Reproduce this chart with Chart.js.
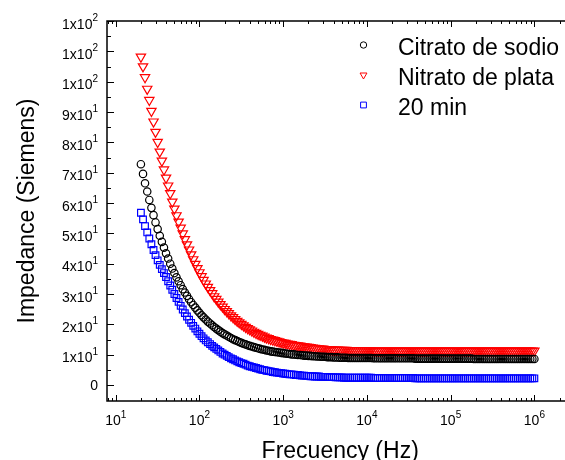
<!DOCTYPE html>
<html>
<head>
<meta charset="utf-8">
<script src="https://cdn.jsdelivr.net/npm/chart.js@4/dist/chart.umd.min.js"></script>
<style>
html,body{margin:0;padding:0;background:#fff;overflow:hidden;width:565px;height:460px;}
canvas{display:block;}
</style>
</head>
<body>
<canvas id="c" width="580" height="460"></canvas>
<script>
// Frequencies (Hz)
const freq = [
20,21.2,22.4,23.8,25.2,26.7,28.3,29.9,31.7,33.6,35.6,37.7,39.9,42.3,44.8,47.4,50.2,53.2,56.4,59.7,63.2,67,71,75.2,79.6,84.3,89.3,94.6,100,106,112,119,126,134,142,150,159,168,178,189,
200,212,224,238,252,267,283,299,317,336,356,377,399,423,448,474,502,532,564,597,632,670,710,752,796,843,893,946,1000,1060,1120,1190,1260,1340,1420,1500,1590,1680,1780,1890,
2000,2120,2240,2380,2520,2670,2830,2990,3170,3360,3560,3770,3990,4230,4480,4740,5020,5320,5640,5970,6320,6700,7100,7520,7960,8430,8930,9460,10000,10600,11200,11900,12600,13400,14200,15000,15900,16800,17800,18900,
20000,21200,22400,23800,25200,26700,28300,29900,31700,33600,35600,37700,39900,42300,44800,47400,50200,53200,56400,59700,63200,67000,71000,75200,79600,84300,89300,94600,100000,106000,112000,119000,126000,134000,142000,150000,159000,168000,178000,189000,
200000,212000,224000,238000,252000,267000,283000,299000,317000,336000,356000,377000,399000,423000,448000,474000,502000,532000,564000,597000,632000,670000,710000,752000,796000,843000,893000,946000,1000000
];
// Citrato de sodio
const citrato = [
72.8,69.6,66.5,63.8,61.0,58.4,56.0,53.6,51.4,49.2,
47.2,45.3,43.4,41.7,40.0,38.4,36.9,35.5,34.2,32.9,
31.6,30.5,29.4,28.3,27.3,26.4,25.5,24.6,23.8,23.0,
22.3,21.6,20.9,20.3,19.7,19.1,18.6,18.1,17.6,17.1,
16.7,16.3,15.9,15.5,15.1,14.8,14.5,14.2,13.9,13.6,
13.4,13.1,12.9,12.7,12.5,12.3,12.1,11.9,11.7,11.6,
11.4,11.3,11.1,11.0,10.9,10.8,10.7,10.6,10.5,10.4,
10.3,10.2,10.1,10.1,10.0,9.9,9.9,9.8,9.7,9.7,
9.6,
9.6,9.5,9.5,9.4,9.4,9.3,9.3,9.3,9.2,9.2,
9.2,9.1,9.1,9.1,9.0,9.0,9.0,9.0,8.9,8.9,
8.9,8.9,8.9,8.9,8.9,8.9,8.9,8.9,8.9,8.9,
8.8,8.8,8.8,8.8,8.8,8.8,8.8,8.8,8.8,8.8,8.8,8.8,8.8,8.8,8.8,8.8,8.8,8.8,8.8,8.8,
8.7,8.7,8.7,8.7,8.7,8.7,8.7,8.7,8.7,8.7,8.7,8.7,8.7,8.7,8.7,8.7,8.7,8.7,8.7,8.7,8.7,8.7,8.7,8.7,8.7,8.7,8.7,8.7,
8.6,8.6,8.6,8.6,8.6,8.6,8.6,8.6,8.6,8.6,8.6,8.6,8.6,8.6,8.6,8.6,8.6,8.6,8.6,8.6,8.6,8.6,8.6,8.6,8.6,8.6,8.6,8.6,8.6,8.6
];
// Nitrato de plata
const nitrato = [
108.2,105.0,101.4,97.6,93.9,90.3,86.8,83.4,80.1,76.9,
73.9,71.0,68.3,65.7,63.2,60.4,58.1,55.9,53.8,51.8,
49.9,48.0,46.3,44.6,43.0,41.4,39.9,38.5,37.1,35.8,
34.6,33.4,32.3,31.2,30.2,29.2,28.3,27.4,26.6,25.8,
25.0,24.3,23.6,22.9,22.3,21.7,21.1,20.6,20.1,19.6,
19.1,18.7,18.3,17.9,17.5,17.1,16.8,16.5,16.2,15.9,
15.6,15.4,15.1,14.9,14.7,14.5,14.3,14.1,13.9,13.8,
13.6,13.5,13.4,13.2,13.1,13.0,12.9,12.8,12.7,12.6,
12.5,
12.4,12.3,12.2,12.1,12.0,11.9,11.9,11.8,11.8,11.7,
11.7,11.6,11.6,11.6,11.5,11.5,11.5,11.5,11.4,11.4,
11.4,11.4,11.4,11.4,11.4,11.4,11.4,11.4,11.4,11.4,
11.3,11.3,11.3,11.3,11.3,11.3,11.3,11.3,11.3,11.3,11.3,11.3,11.3,11.3,11.3,11.3,11.3,11.3,11.3,11.3,
11.3,11.3,11.3,11.3,11.3,11.3,11.3,11.3,11.3,11.3,11.3,11.3,11.3,11.3,11.3,11.3,11.3,11.3,11.3,11.3,
11.3,11.3,11.3,11.3,11.3,11.3,11.3,11.3,11.3,11.3,11.3,11.3,11.3,11.3,11.3,11.3,11.3,11.3,11.3,11.3,
11.3,11.3,11.3,11.3,11.3,11.3,11.3,11.3,11.3,11.3,11.3,11.3,11.3,11.3,11.3,11.3,11.3,11.3
];
// 20 min
const min20 = [
56.8,54.6,52.4,50.3,48.3,46.4,44.5,42.8,41.1,39.6,
38.2,36.9,35.6,34.2,32.8,31.4,30.0,28.7,27.4,26.1,
24.9,23.7,22.6,21.5,20.5,19.5,18.6,17.7,16.9,16.1,
15.4,14.7,14.1,13.5,12.9,12.4,11.9,11.4,10.9,10.4,
10.0,9.6,9.2,8.8,8.5,8.1,7.8,7.5,7.2,7.0,
6.7,6.4,6.2,6.0,5.8,5.6,5.4,5.2,5.0,4.9,
4.7,4.6,4.5,4.3,4.2,4.1,4.0,3.9,3.8,3.7,
3.6,3.5,3.5,3.4,3.3,3.3,3.2,3.1,3.1,3.0,
3.0,
2.9,2.9,2.8,2.8,2.8,2.7,2.7,2.7,2.6,2.6,
2.6,2.6,2.5,2.5,2.5,2.5,2.4,2.4,2.4,2.4,
2.4,2.4,2.4,2.4,2.4,2.4,2.4,2.4,2.4,2.4,
2.3,2.3,2.3,2.3,2.3,2.3,2.3,2.3,2.3,2.3,2.3,2.3,2.3,2.3,2.3,2.3,2.3,2.3,2.3,2.3,
2.2,2.2,2.2,2.2,2.2,2.2,2.2,2.2,2.2,2.2,2.2,2.2,2.2,2.2,2.2,2.2,2.2,2.2,2.2,2.2,
2.2,2.2,2.2,2.2,2.2,2.2,2.2,2.2,2.2,2.2,2.2,2.2,2.2,2.2,2.2,2.2,2.2,2.2,2.2,2.2,
2.2,2.2,2.2,2.2,2.2,2.2,2.2,2.2,2.2,2.2,2.2,2.2,2.2,2.2,2.2,2.2,2.2,2.2
];
const seriesNames = ['Citrato de sodio','Nitrato de plata','20 min'];
// Tick labels
const yTickValues = [0,10,20,30,40,50,60,70,80,90,100,110,120];
const yTickBase = ['0','1x10','2x10','3x10','4x10','5x10','6x10','7x10','8x10','9x10','1x10','1x10','1x10'];
const yTickExp  = ['','1','1','1','1','1','1','1','1','1','2','2','2'];
const xTickValues = [10,100,1000,10000,100000,1000000];
const xTickBase = ['10','10','10','10','10','10'];
const xTickExp  = ['1','2','3','4','5','6'];
const xTitle = 'Frecuency (Hz)';
const yTitle = 'Impedance (Siemens)';

const FONT = "'Liberation Sans', Arial, Helvetica, sans-serif";
const pts = arr => freq.map((f,i)=>({x:f,y:arr[i]}));

const decor = {
  id:'decor',
  afterDraw(chart){
    const ctx = chart.ctx;
    const {left,right,top,bottom} = chart.chartArea;
    const xs = chart.scales.x, ys = chart.scales.y;
    ctx.save();
    ctx.strokeStyle = '#000';
    ctx.lineWidth = 1.5;
    ctx.beginPath();
    ctx.moveTo(left, top); ctx.lineTo(right, top); ctx.lineTo(right, bottom);
    ctx.lineTo(left, bottom); ctx.closePath();
    ctx.stroke();
    ctx.lineWidth = 1;
    // y ticks
    ctx.beginPath();
    yTickValues.forEach(v=>{
      const p = Math.round(ys.getPixelForValue(v))+0.5;
      ctx.moveTo(left, p); ctx.lineTo(left+7, p);
      ctx.moveTo(right, p); ctx.lineTo(right-7, p);
    });
    for (let v=5; v<120; v+=10){
      const p = Math.round(ys.getPixelForValue(v))+0.5;
      ctx.moveTo(left, p); ctx.lineTo(left+4, p);
      ctx.moveTo(right, p); ctx.lineTo(right-4, p);
    }
    // x ticks
    xTickValues.forEach(v=>{
      const p = Math.round(xs.getPixelForValue(v))+0.5;
      ctx.moveTo(p, bottom); ctx.lineTo(p, bottom-6);
      ctx.moveTo(p, top); ctx.lineTo(p, top+6);
    });
    for (let e=0; e<=6; e++){
      for (let m=2; m<=9; m++){
        const v = m*Math.pow(10,e);
        if (v < xs.min || v > xs.max) continue;
        const p = Math.round(xs.getPixelForValue(v))+0.5;
        ctx.moveTo(p, bottom); ctx.lineTo(p, bottom-3);
        ctx.moveTo(p, top); ctx.lineTo(p, top+3);
      }
    }
    ctx.stroke();

    // tick labels
    ctx.fillStyle = '#000';
    const mainF = '14px '+FONT, supF = '10px '+FONT;
    yTickValues.forEach((v,i)=>{
      const p = ys.getPixelForValue(v);
      ctx.font = supF; const sw = yTickExp[i] ? ctx.measureText(yTickExp[i]).width : 0;
      ctx.font = mainF; const bw = ctx.measureText(yTickBase[i]).width;
      const rx = 98;
      const base = yTickExp[i] ? p+7.5 : p+5;
      ctx.textAlign='left'; ctx.textBaseline='alphabetic';
      ctx.fillText(yTickBase[i], rx - sw - bw, base);
      if (yTickExp[i]) { ctx.font = supF; ctx.fillText(yTickExp[i], rx - sw, base-7.5); }
    });
    xTickValues.forEach((v,i)=>{
      const p = xs.getPixelForValue(v);
      ctx.font = supF; const sw = ctx.measureText(xTickExp[i]).width;
      ctx.font = mainF; const bw = ctx.measureText(xTickBase[i]).width;
      const x0 = p - (sw+bw)/2;
      ctx.textAlign='left'; ctx.textBaseline='alphabetic';
      ctx.fillText(xTickBase[i], x0, 425);
      ctx.font = supF; ctx.fillText(xTickExp[i], x0+bw, 417.5);
    });

    // axis titles
    ctx.font = '23px '+FONT;
    ctx.textAlign='center'; ctx.textBaseline='alphabetic';
    ctx.fillText(xTitle, (left+right)/2, 458);
    ctx.save();
    ctx.translate(33.5, (top+bottom)/2);
    ctx.rotate(-Math.PI/2);
    ctx.fillText(yTitle, 0, 0);
    ctx.restore();

    // legend
    const ds = chart.data.datasets;
    const rows = [45, 75, 105];
    const textBase = [55, 85, 115];
    const legR = [3.2, 4.0, 4.1];
    ds.forEach((d,i)=>{
      ctx.lineWidth = 1;
      ctx.strokeStyle = d.borderColor;
      ctx.fillStyle = 'rgba(0,0,0,0)';
      Chart.helpers.drawPoint(ctx, {pointStyle:d.pointStyle, rotation:d.pointRotation||0, radius:legR[i], borderWidth:1}, 363.5, rows[i]);
      ctx.fillStyle = '#000';
      ctx.font = '23px '+FONT;
      ctx.textAlign='left';
      ctx.fillText(seriesNames[i], 398, textBase[i]);
    });
    ctx.restore();
  }
};

new Chart(document.getElementById('c'), {
  type:'scatter',
  data:{
    datasets:[
      {label:seriesNames[0], data:pts(citrato), pointStyle:'circle', pointRadius:3.7, borderColor:'#000000', backgroundColor:'rgba(0,0,0,0)', borderWidth:1.2},
      {label:seriesNames[1], data:pts(nitrato), pointStyle:'triangle', pointRotation:180, pointRadius:5.4, borderColor:'#ff0000', backgroundColor:'rgba(0,0,0,0)', borderWidth:1.2},
      {label:seriesNames[2], data:pts(min20), pointStyle:'rect', pointRadius:4.7, borderColor:'#0000ff', backgroundColor:'rgba(0,0,0,0)', borderWidth:1.2}
    ]
  },
  options:{
    responsive:false, animation:false, devicePixelRatio:1,
    layout:{padding:{left:107, top:21, right:6, bottom:59}},
    plugins:{legend:{display:false}, tooltip:{enabled:false}},
    elements:{point:{hoverRadius:0}},
    scales:{
      x:{type:'logarithmic', min:7.874, max:2924000, display:false},
      y:{type:'linear', min:-5.27, max:120, display:false}
    }
  },
  plugins:[decor]
});
</script>
</body>
</html>
